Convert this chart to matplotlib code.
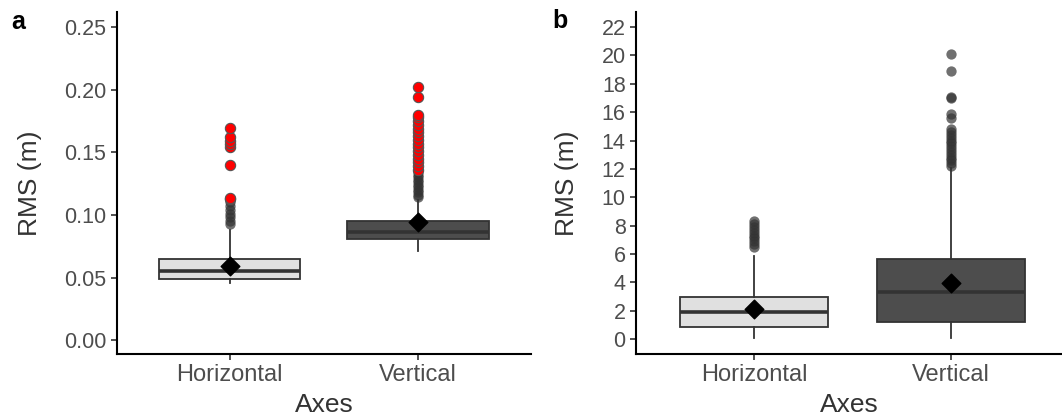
import matplotlib.pyplot as plt

plt.rcParams['font.family'] = ['Liberation Sans', 'DejaVu Sans']

# axis categories
cats = ['Horizontal', 'Vertical']
fills = ['#E0E0E0', '#4D4D4D']

# panel a: box stats (whislo, q1, med, q3, whishi, mean)
a_stats = [[0.0454, 0.0486, 0.0550, 0.0645, 0.0880, 0.0590],
           [0.0710, 0.0810, 0.0865, 0.0948, 0.1120, 0.0940]]
a_grey = [[0.093, 0.095, 0.098, 0.101, 0.104, 0.107, 0.110],
          [0.114, 0.116, 0.118, 0.120, 0.122, 0.124, 0.126, 0.128, 0.130, 0.132, 0.134]]
a_red = [[0.1125, 0.1138, 0.140, 0.1547, 0.1570, 0.1587, 0.1620, 0.1696],
         [0.136, 0.139, 0.142, 0.145, 0.148, 0.151, 0.154, 0.157, 0.160, 0.163,
          0.166, 0.169, 0.172, 0.175, 0.178, 0.180, 0.1945, 0.2025]]

# panel b
b_stats = [[0.05, 0.87, 1.92, 3.00, 5.87, 2.10],
           [0.05, 1.20, 3.33, 5.68, 12.1, 3.96]]
b_grey = [[6.5, 6.7, 6.9, 7.1, 7.3, 7.5, 7.7, 7.9, 8.1, 8.3],
          [12.2, 12.4, 12.6, 12.8, 13.0, 13.2, 13.4, 13.6, 13.8, 14.0, 14.2,
           14.4, 14.6, 14.8, 15.6, 15.9, 17.0, 17.1, 18.9, 20.1]]
b_red = [[], []]

fig = plt.figure(figsize=(10.62, 4.2), dpi=100)
axa = fig.add_axes([0.110, 0.157, 0.390, 0.814])
axb = fig.add_axes([0.599, 0.157, 0.401, 0.814])


def draw(ax, stats, grey, red, ylim, yticks, fmt, xmax):
    bxp = []
    for i, s in enumerate(stats):
        bxp.append(dict(whislo=s[0], q1=s[1], med=s[2], q3=s[3], whishi=s[4],
                        mean=s[5], fliers=[], label=cats[i]))
    res = ax.bxp(bxp, positions=[1, 2], widths=0.75, patch_artist=True,
                 showmeans=False, showcaps=False,
                 boxprops=dict(edgecolor='#333333', linewidth=1.3),
                 medianprops=dict(color='#333333', linewidth=2.6),
                 whiskerprops=dict(color='#333333', linewidth=1.3))
    for p, c in zip(res['boxes'], fills):
        p.set_facecolor(c)
    for i in range(2):
        ax.scatter([i + 1] * len(grey[i]), grey[i], s=55, color='#333333',
                   alpha=0.7, linewidths=0, zorder=3)
        ax.scatter([i + 1] * len(red[i]), red[i], s=55, color='red',
                   edgecolors='#555555', linewidths=0.8, zorder=4)
        ax.scatter([i + 1], [stats[i][5]], marker='D', s=90, color='black', zorder=5)
    ax.set_xlim(0.4, xmax)
    ax.set_ylim(*ylim)
    ax.set_yticks(yticks)
    ax.set_yticklabels([fmt.format(v) for v in yticks])
    ax.set_xticks([1, 2])
    ax.set_xticklabels(cats)
    for sp in ['top', 'right']:
        ax.spines[sp].set_visible(False)
    for sp in ['left', 'bottom']:
        ax.spines[sp].set_linewidth(1.5)
    ax.tick_params(colors='#4D4D4D', length=4, width=1.2)
    ax.tick_params(axis='both', color='#333333')
    ax.tick_params(axis='x', labelsize=17)
    ax.tick_params(axis='y', labelsize=15.5)
    ax.set_xlabel('Axes', fontsize=19, color='#333333', labelpad=5)
    ax.set_ylabel('RMS (m)', fontsize=19, color='#333333', labelpad=16)


draw(axa, a_stats, a_grey, a_red, (-0.0111, 0.262),
     [0, 0.05, 0.10, 0.15, 0.20, 0.25], '{:.2f}', 2.6)
draw(axb, b_stats, b_grey, b_red, (-1.05, 23.05),
     list(range(0, 23, 2)), '{:d}', 2.565)

fig.text(0.011, 0.931, 'a', fontsize=18, fontweight='bold')
fig.text(0.520, 0.933, 'b', fontsize=18, fontweight='bold')

fig.savefig('out.png', dpi=100)
